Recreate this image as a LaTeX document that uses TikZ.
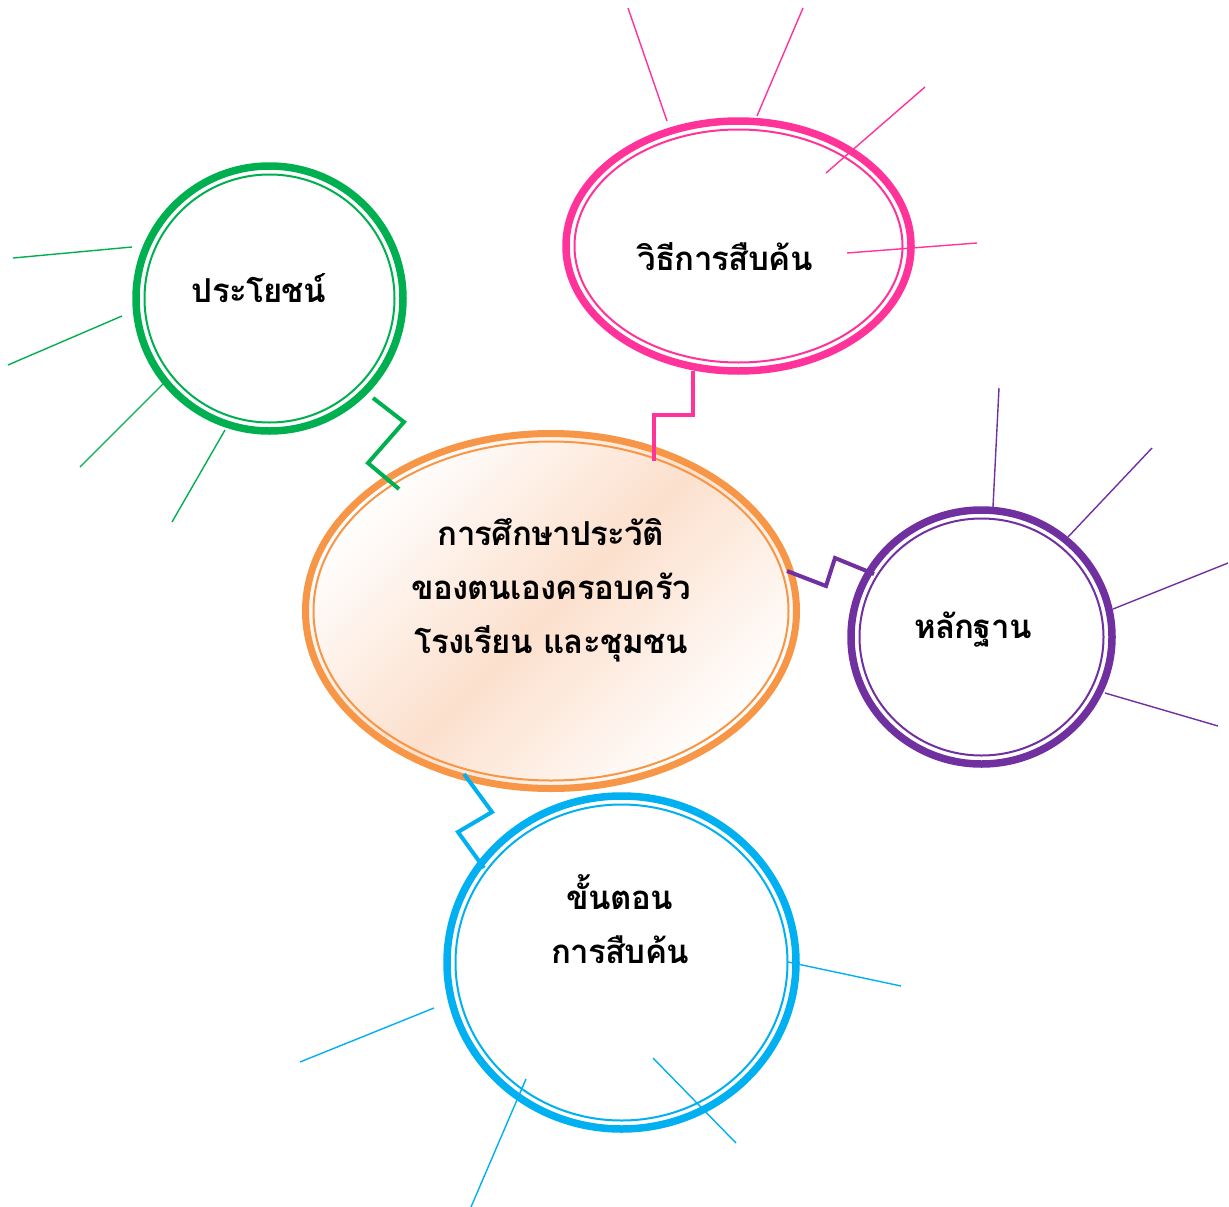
\documentclass[tikz,border=0pt]{standalone}
\usepackage{fontspec}
\newfontfamily\thaifont[Script=Thai,LetterSpace=-2]{Loma}
\usetikzlibrary{shapes.geometric}
\definecolor{cOrange}{HTML}{F79646}
\definecolor{cPeach}{RGB}{252,224,205}
\definecolor{cPink}{HTML}{FF3399}
\definecolor{cGreen}{HTML}{00B050}
\definecolor{cPurple}{HTML}{7030A0}
\definecolor{cBlue}{HTML}{00B0F0}
\begin{document}
\begin{tikzpicture}[x=1pt,y=-1pt,
  ring/.style={ellipse, draw, line width=7.5pt, inner sep=0pt, outer sep=0pt},
  inner ring/.style={line width=2pt},
  ray/.style={line width=1.4pt},
  link/.style={line width=4pt, line join=miter, line cap=butt},
  lbl/.style={font=\thaifont\bfseries\fontsize{33}{54}\selectfont, align=center, inner sep=0pt}]
\useasboundingbox (0,0) rectangle (1229,1207);
\fill[white] (0,0) rectangle (1229,1207);

% centres
\coordinate (cc) at (551,611);
\coordinate (gc) at (269.5,298.5);
\coordinate (pc) at (738.5,246);
\coordinate (uc) at (981.5,637);
\coordinate (bc) at (621.5,962.5);

% central ellipse fill
\shade[top color=white, bottom color=white, middle color=cPeach, shading angle=45]
  (cc) ellipse [x radius=245, y radius=177];

% rings
\node[ring, draw=cOrange, line width=7pt, minimum width=491pt, minimum height=355pt] (center) at (cc) {};
\node[ring, draw=cGreen, minimum width=267pt, minimum height=265pt] (green) at (gc) {};
\node[ring, draw=cPink, minimum width=345pt, minimum height=250pt] (pink) at (pc) {};
\node[ring, draw=cPurple, minimum width=261pt, minimum height=254pt] (purple) at (uc) {};
\node[ring, draw=cBlue, minimum width=349pt, minimum height=333pt] (blue) at (bc) {};

\draw[inner ring, cOrange] (center.center) ellipse [x radius=237.5, y radius=169.5];
\draw[inner ring, cGreen] (green.center) ellipse [x radius=125, y radius=124];
\draw[inner ring, cPink] (pink.center) ellipse [x radius=164, y radius=116.5];
\draw[inner ring, cPurple] (purple.center) ellipse [x radius=122, y radius=118.5];
\draw[inner ring, cBlue] (blue.center) ellipse [x radius=166, y radius=158];

% rays
\draw[ray, cGreen] (13,258) -- (132,247);
\draw[ray, cGreen] (8,365) -- (122,316);
\draw[ray, cGreen] (80,467) -- (167,380);
\draw[ray, cGreen] (172,522) -- (225,430);

\draw[ray, cPink] (628,8) -- (667,121);
\draw[ray, cPink] (803,8) -- (757,116);
\draw[ray, cPink] (925,87) -- (826,173);
\draw[ray, cPink] (977,243) -- (847,253);

\draw[ray, cPurple] (999,388) -- (993,507);
\draw[ray, cPurple] (1152,448) -- (1068,537);
\draw[ray, cPurple] (1228,563) -- (1113,609);
\draw[ray, cPurple] (1218,726) -- (1105,693);

\draw[ray, cBlue] (300,1062) -- (434,1008);
\draw[ray, cBlue] (471,1207) -- (526,1079);
\draw[ray, cBlue] (736,1143) -- (653,1058);
\draw[ray, cBlue] (901,986) -- (788,962);

% connectors
\coordinate (g1) at (373,398);
\coordinate (g2) at (399,489);
\draw[link, cGreen] (g1) -- (404,422) -- (368,463) -- (g2);

\coordinate (p1) at (693,371);
\coordinate (p2) at (654,461);
\draw[link, cPink] (p1) -- (693,415) -- (654,415) -- (p2);

\coordinate (u1) at (787,571);
\coordinate (u2) at (874,574);
\draw[link, cPurple] (u1) -- (826,586) -- (835,558) -- (u2);

\coordinate (b1) at (464,774);
\coordinate (b2) at (484,868);
\draw[link, cBlue] (b1) -- (492,812) -- (458,832) -- (b2);

% labels
\node[lbl] (tc) at (551,590) {การศึกษาประวัติ\\ของตนเองครอบครัว\\โรงเรียน และชุมชน};
\node[lbl] (tg) at (259,288) {ประโยชน์};
\node[lbl] (tp) at (725,257) {วิธีการสืบค้น};
\node[lbl] (tu) at (973,630) {หลักฐาน};
\node[lbl] (tb) at (620,919) {ขั้นตอน\\การสืบค้น};
\end{tikzpicture}
\end{document}
